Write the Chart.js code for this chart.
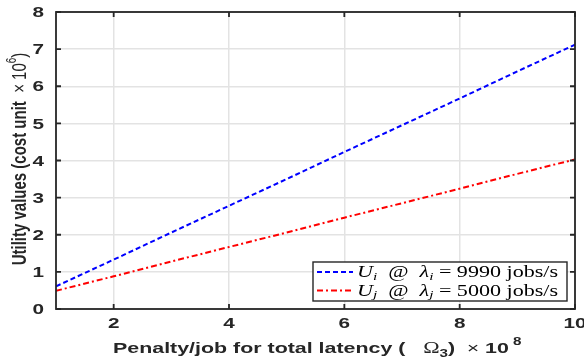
<!DOCTYPE html>
<html>
<head>
<meta charset="utf-8">
<script src="https://cdn.jsdelivr.net/npm/chart.js@4.4.1/dist/chart.umd.min.js"></script>
<style>
  html, body { margin: 0; padding: 0; background: #fff; }
  #wrap { width: 584px; height: 361px; position: relative; }
</style>
</head>
<body>
<div id="wrap"><canvas id="c" width="584" height="361"></canvas></div>
<script>
// Penalty per job for total latency (x 10^8)
const penalty = [1, 2, 3, 4, 5, 6, 7, 8, 9, 10];
// Utility values (x 10^6)
const utilityI = [0.61, 1.33, 2.06, 2.78, 3.50, 4.23, 4.95, 5.67, 6.40, 7.12];
const utilityJ = [0.49, 0.88, 1.28, 1.67, 2.06, 2.46, 2.85, 3.24, 3.64, 4.03];
const xTicks = [2, 4, 6, 8, 10];
const yTicks = [0, 1, 2, 3, 4, 5, 6, 7, 8];
const legendRows = [
  { sub: 'i', rate: '9990' },
  { sub: 'j', rate: '5000' }
];

const AXIS = '#262626';
const GRID = '#e3e3e3';
const SANS = '"Liberation Sans", Arial, sans-serif';
const MATH = '"Liberation Serif", "DejaVu Serif", serif';
const WIDE = 1.38;   // horizontal stretch of the lettering

// Draws a run of text pieces; each piece may be raised/lowered
function drawRuns(ctx, x, y, runs) {
  let cx = x;
  for (const r of runs) {
    ctx.font = r.font;
    ctx.fillText(r.t, cx, y + (r.dy || 0));
    cx += ctx.measureText(r.t).width;
  }
  return cx - x;
}
function measureRuns(ctx, runs) {
  let w = 0;
  for (const r of runs) { ctx.font = r.font; w += ctx.measureText(r.t).width; }
  return w;
}
// Text drawn stretched along the x direction of the current frame
function wideText(ctx, text, x, y, align) {
  const w = ctx.measureText(text).width * WIDE;
  let x0 = x;
  if (align === 'center') x0 = x - w / 2;
  else if (align === 'right') x0 = x - w;
  ctx.save();
  ctx.translate(x0, y);
  ctx.scale(WIDE, 1);
  ctx.textAlign = 'left';
  ctx.fillText(text, 0, 0);
  ctx.restore();
}

const framePlugin = {
  id: 'frame',
  afterDraw(chart) {
    const { ctx, chartArea: a, scales } = chart;
    const xs = scales.x, ys = scales.y;
    ctx.save();
    // box
    ctx.strokeStyle = AXIS;
    ctx.lineWidth = 1.8;
    ctx.strokeRect(a.left, a.top, a.right - a.left, a.bottom - a.top);
    // inward tick marks on all four sides
    const tl = 5;
    ctx.beginPath();
    for (const v of xTicks) {
      const px = xs.getPixelForValue(v);
      ctx.moveTo(px, a.bottom); ctx.lineTo(px, a.bottom - tl);
      ctx.moveTo(px, a.top); ctx.lineTo(px, a.top + tl);
    }
    for (const v of yTicks) {
      const py = ys.getPixelForValue(v);
      ctx.moveTo(a.left, py); ctx.lineTo(a.left + tl, py);
      ctx.moveTo(a.right, py); ctx.lineTo(a.right - tl, py);
    }
    ctx.stroke();

    // tick labels
    ctx.fillStyle = AXIS;
    ctx.font = 'bold 15px ' + SANS;
    ctx.textBaseline = 'middle';
    for (const v of xTicks) {
      wideText(ctx, String(v), xs.getPixelForValue(v), a.bottom + 15, 'center');
    }
    for (const v of yTicks) {
      wideText(ctx, String(v), a.left - 12, ys.getPixelForValue(v) + 1, 'right');
    }

    // legend
    const lx = 313, ly = 262, lw = 254, lh = 39;
    ctx.fillStyle = '#fff';
    ctx.fillRect(lx, ly, lw, lh);
    ctx.strokeStyle = AXIS;
    ctx.lineWidth = 1.4;
    ctx.strokeRect(lx, ly, lw, lh);
    const ds = chart.data.datasets;
    legendRows.forEach((row, k) => {
      const yy = ly + 10 + k * 18.5;
      const d = ds[k];
      ctx.strokeStyle = d.borderColor;
      ctx.lineWidth = d.borderWidth;
      ctx.setLineDash(d.borderDash);
      ctx.beginPath();
      ctx.moveTo(lx + 4, yy); ctx.lineTo(lx + 40, yy);
      ctx.stroke();
      ctx.setLineDash([]);
      ctx.fillStyle = '#000';
      ctx.textBaseline = 'middle';
      ctx.textAlign = 'left';
      const it = 'italic 16px ' + MATH, rm = '16px ' + MATH, sb = 'italic 11px ' + MATH;
      ctx.save();
      ctx.translate(lx + 44, yy + 1);
      ctx.scale(WIDE, 1);
      drawRuns(ctx, 0, 0, [
        { t: 'U', font: it },
        { t: row.sub, font: sb, dy: 4 },
        { t: '  @  ', font: rm },
        { t: 'λ', font: it },
        { t: row.sub, font: sb, dy: 4 },
        { t: ' = ' + row.rate + ' jobs/s', font: rm }
      ]);
      ctx.restore();
    });

    // x axis title
    ctx.fillStyle = AXIS;
    ctx.textBaseline = 'alphabetic';
    ctx.textAlign = 'left';
    const xRuns = [
      { t: 'Penalty/job for total latency (   ', font: 'bold 15.5px ' + SANS },
      { t: 'Ω', font: '16px ' + MATH },
      { t: '3', font: 'bold 11px ' + SANS, dy: 4 },
      { t: ')  ', font: 'bold 15.5px ' + SANS },
      { t: '×', font: '15px ' + SANS },
      { t: ' 10', font: 'bold 15.5px ' + SANS },
      { t: ' 8', font: 'bold 11px ' + SANS, dy: -8 }
    ];
    ctx.save();
    ctx.translate(113, 353);
    ctx.scale(WIDE, 1);
    drawRuns(ctx, 0, 0, xRuns);
    ctx.restore();

    // y axis title (rotated; the stretch runs across the glyphs)
    ctx.save();
    ctx.translate(26, 159);
    ctx.rotate(-Math.PI / 2);
    ctx.scale(1, WIDE);
    const yRuns = [
      { t: 'Utility values (cost unit  ', font: 'bold 15px ' + SANS },
      { t: '×', font: '15px ' + SANS },
      { t: ' 10', font: '15px ' + SANS },
      { t: '6', font: '10px ' + SANS, dy: -7 },
      { t: ')', font: '15px ' + SANS }
    ];
    const yw = measureRuns(ctx, yRuns);
    drawRuns(ctx, -yw / 2, 0, yRuns);
    ctx.restore();

    ctx.restore();
  }
};

new Chart(document.getElementById('c'), {
  type: 'line',
  data: {
    datasets: [
      {
        label: 'U_i',
        data: penalty.map((x, k) => ({ x, y: utilityI[k] })),
        borderColor: '#0000ff',
        borderWidth: 2,
        borderDash: [5, 3],
        pointRadius: 0,
        fill: false,
        tension: 0
      },
      {
        label: 'U_j',
        data: penalty.map((x, k) => ({ x, y: utilityJ[k] })),
        borderColor: '#ff0000',
        borderWidth: 2,
        borderDash: [6, 3, 2, 3],
        pointRadius: 0,
        fill: false,
        tension: 0
      }
    ]
  },
  options: {
    responsive: false,
    animation: false,
    layout: { padding: { left: 0, top: 12, right: 9, bottom: 0 } },
    plugins: { legend: { display: false }, tooltip: { enabled: false } },
    scales: {
      x: {
        type: 'linear',
        min: 1, max: 10,
        afterBuildTicks: s => { s.ticks = xTicks.map(v => ({ value: v })); },
        afterFit: s => { s.height = 52; },
        border: { display: false },
        grid: { color: GRID, lineWidth: 1.5, drawTicks: false },
        ticks: { display: false }
      },
      y: {
        type: 'linear',
        min: 0, max: 8,
        afterBuildTicks: s => { s.ticks = yTicks.map(v => ({ value: v })); },
        afterFit: s => { s.width = 56; },
        border: { display: false },
        grid: { color: GRID, lineWidth: 1.5, drawTicks: false },
        ticks: { display: false }
      }
    }
  },
  plugins: [framePlugin]
});
</script>
</body>
</html>
